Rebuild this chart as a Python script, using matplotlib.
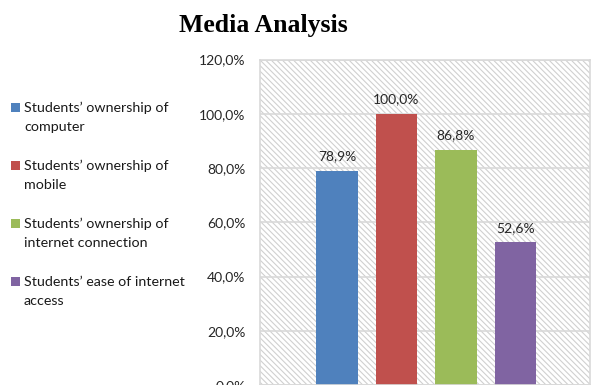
import matplotlib.pyplot as plt
from matplotlib.patches import Rectangle
from matplotlib.ticker import FuncFormatter

labels = ["Students’ ownership of\ncomputer",
          "Students’ ownership of\nmobile",
          "Students’ ownership of\ninternet connection",
          "Students’ ease of internet\naccess"]
values = [78.9, 100.0, 86.8, 52.6]
colors = ['#4F81BD', '#C0504D', '#9BBB59', '#8064A2']
yticks = [0, 20, 40, 60, 80, 100, 120]

W, H = 592, 385
plt.rcParams['font.family'] = 'Lato'
plt.rcParams['hatch.linewidth'] = 0.8


def pct(v, pos=None):
    return f"{v:.1f}%".replace('.', ',')


fig = plt.figure(figsize=(W / 100, H / 100), dpi=100)
ax = fig.add_axes([259.5 / W, 0, (590 - 259.5) / W, (385 - 59.5) / H])

# hatched plot area
ax.add_patch(Rectangle((0, 0), 1, 1, transform=ax.transAxes, facecolor='white',
                       edgecolor='#d0d0d0', hatch='\\' * 6, lw=0, zorder=0.1))

x = range(len(values))
bars = ax.bar(x, values, width=0.7, color=colors, zorder=2)
ax.bar_label(bars, labels=[pct(v) for v in values], padding=6, fontsize=10,
             color='#262626')

ax.set_xlim(-1.3, 4.25)
ax.set_ylim(0, 120)
ax.set_yticks(yticks)
ax.yaxis.set_major_formatter(FuncFormatter(pct))
ax.tick_params(axis='y', length=0, pad=10, labelsize=10, labelcolor='#262626')
ax.set_xticks([])
ax.set_axisbelow(True)
ax.yaxis.grid(True, color='#d9d9d9', lw=1.2, zorder=0.5)
for s in ax.spines.values():
    s.set_color('#d9d9d9')
    s.set_linewidth(1.2)

fig.text(263.5 / W, 1 - 32 / H, 'Media Analysis', ha='center', va='baseline',
         fontfamily='Liberation Serif', fontweight='bold', fontsize=18.5)

# legend on the left, marker next to the first line of each entry
for i, (lab, c) in enumerate(zip(labels, colors)):
    yc = 107 + 58 * i
    fig.add_artist(Rectangle((11 / W, 1 - (yc + 4.5) / H), 9 / W, 9 / H,
                             transform=fig.transFigure, facecolor=c, lw=0))
    for j, line in enumerate(lab.split('\n')):
        fig.text(24 / W, 1 - (yc + 19 * j) / H, line, ha='left',
                 va='center_baseline', fontsize=10.3, color='#1a1a1a')

fig.savefig('out.png', dpi=100)
